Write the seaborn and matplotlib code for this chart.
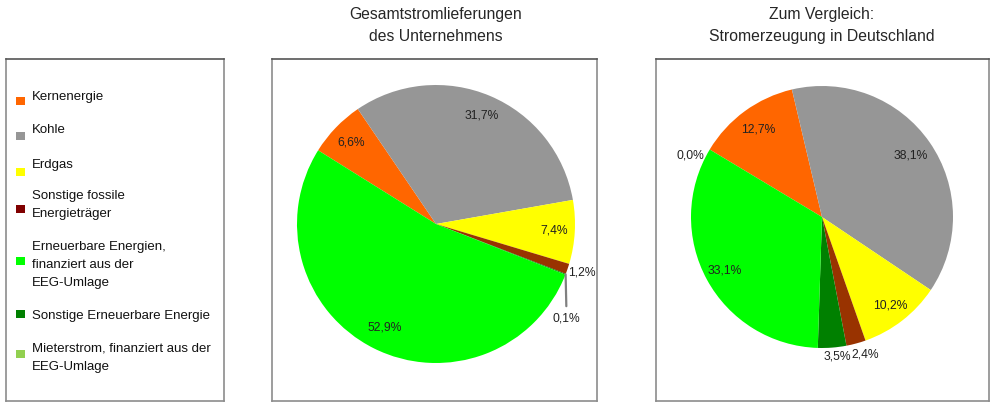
import numpy as np
import matplotlib
matplotlib.use("Agg")
import matplotlib.pyplot as plt
from matplotlib.patches import Rectangle
import seaborn as sns

sns.set_style("white")
plt.rcParams['font.family'] = ['Liberation Sans', 'DejaVu Sans']

# legend order
categories = ["Kernenergie", "Kohle", "Erdgas",
              "Sonstige fossile\nEnergieträger",
              "Erneuerbare Energien,\nfinanziert aus der\nEEG-Umlage",
              "Sonstige Erneuerbare Energie",
              "Mieterstrom, finanziert aus der\nEEG-Umlage"]
legend_colors = ["#FF6600", "#969696", "#FFFF00", "#800000",
                 "#00FF00", "#008000", "#92D050"]
slice_colors = ["#FF6600", "#969696", "#FFFF00", "#993300",
                "#00FF00", "#008000", "#92D050"]

# values in %, legend order (None = no value shown)
unternehmen = [6.6, 31.7, 7.4, 1.2, 52.9, 0.1, None]
deutschland = [12.7, 38.1, 10.2, 2.4, 33.1, 3.5, 0.0]

titles = ["Gesamtstromlieferungen\ndes Unternehmens",
          "Zum Vergleich:\nStromerzeugung in Deutschland"]

# clockwise drawing order of the slices
pie_order = [0, 1, 2, 3, 5, 4, 6]

W, H = 990, 405
fig = plt.figure(figsize=(W / 100, H / 100), dpi=100)


def fig_rect(x0, y0, x1, y1):
    return [x0 / W, 1 - y1 / H, (x1 - x0) / W, (y1 - y0) / H]


def style_box(ax):
    ax.set_xticks([])
    ax.set_yticks([])
    ax.set_frame_on(True)
    for s in ax.spines.values():
        s.set_visible(True)
        s.set_color("#8c8c8c")
        s.set_linewidth(1.2)
    ax.spines["top"].set_color("#555555")


def pct(v):
    return f"{v:.1f}%".replace(".", ",")


def mid(w, r):
    a = np.deg2rad((w.theta1 + w.theta2) / 2)
    return r * np.cos(a), r * np.sin(a)


LBL = dict(fontsize=8.7, color="#222222")


def draw_pie(box, center, r, values, start, special):
    x0, y0, x1, y1 = box
    ax = fig.add_axes(fig_rect(*box))
    vals = [0.0 if values[i] is None else values[i] for i in pie_order]
    cols = [slice_colors[i] for i in pie_order]
    wedges, _ = ax.pie(vals, colors=cols, startangle=start, counterclock=False,
                       wedgeprops=dict(linewidth=0))
    cx, cy = center
    ax.set_aspect("auto")
    ax.set_xlim((x0 - cx) / r, (x1 - cx) / r)
    ax.set_ylim((cy - y1) / r, (cy - y0) / r)
    style_box(ax)
    for w, i in zip(wedges, pie_order):
        v = values[i]
        if v is None:
            continue
        kind = special.get(i, ("at", 0.85))
        if kind[0] == "at":
            x, y = mid(w, kind[1])
            ax.text(x, y, pct(v), ha="center", va="center", **LBL)
        elif kind[0] == "side":
            x, y = mid(w, 1.0)
            ax.annotate(pct(v), xy=(x, y), xytext=kind[1], textcoords="offset pixels",
                        ha=kind[2], va="center", **LBL)
        elif kind[0] == "leader":
            x, y = mid(w, 1.0)
            ax.annotate(pct(v), xy=(x, y), xytext=kind[1], textcoords="offset pixels",
                        ha="center", va="center", **LBL,
                        arrowprops=dict(arrowstyle="-", color="#808080", lw=1.6,
                                        shrinkA=2, shrinkB=0))
    return ax


draw_pie((272, 59, 597, 401), (436, 224), 139, unternehmen, 148,
         {3: ("side", (1, -4), "left"), 5: ("leader", (1, -44)), 4: ("at", 0.83)})
draw_pie((656, 59, 989, 401), (822, 217), 131, deutschland, 149,
         {3: ("side", (9, -11.5), "center"), 5: ("side", (5, -8.5), "center"),
          6: ("side", (-5, -6), "right"),
          0: ("at", 0.83), 1: ("at", 0.82)})

fig.text(436 / W, 1 - 25.5 / H, titles[0], ha="center", va="center",
         fontsize=11.3, linespacing=1.65)
fig.text(822 / W, 1 - 25.5 / H, titles[1], ha="center", va="center",
         fontsize=11.3, linespacing=1.65)

# legend box, drawn in pixel coordinates
lax = fig.add_axes(fig_rect(6, 59, 224, 401))
lax.set_xlim(6, 224)
lax.set_ylim(401, 59)
style_box(lax)
text_y = [97, 130, 165, 205, 265, 316, 358]
mark_y = [100.5, 136, 172, 208.5, 261, 314, 353.5]
for lab, col, ty, my in zip(categories, legend_colors, text_y, mark_y):
    lax.add_patch(Rectangle((15.5, my - 4), 9, 8, facecolor=col, edgecolor="none"))
    lax.text(31.5, ty, lab, ha="left", va="center", fontsize=9.5,
             linespacing=1.72, color="#111111")

fig.savefig("out.png", dpi=100)
